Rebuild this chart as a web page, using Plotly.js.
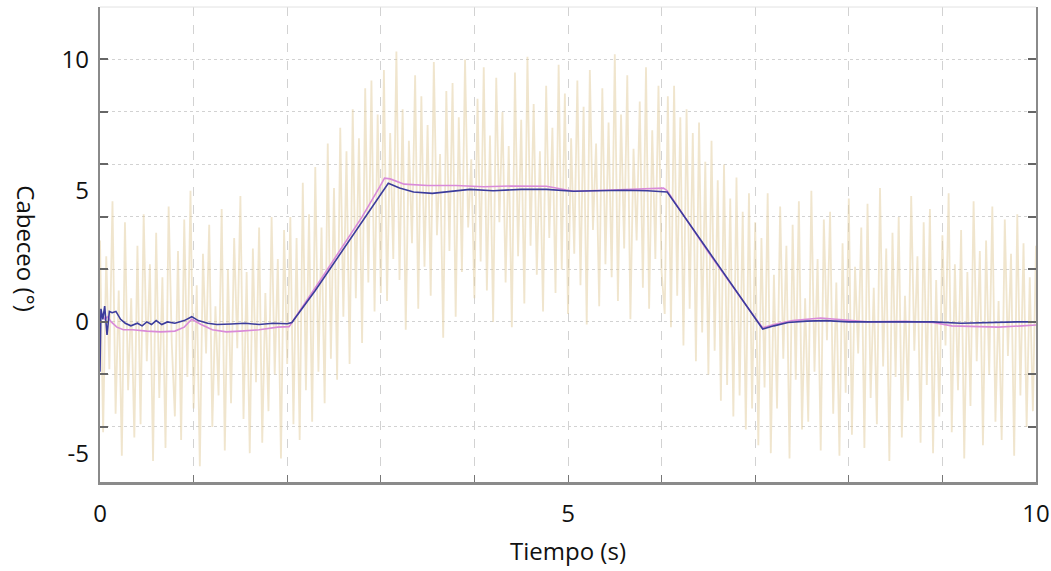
<!DOCTYPE html>
<html>
<head>
<meta charset="utf-8">
<script src="https://cdn.plot.ly/plotly-3.0.1.min.js"></script>
<style>html,body{margin:0;padding:0;background:#fff;}#chart{width:1051px;height:571px;}</style>
</head>
<body>
<div id="chart"></div>
<script>
// Noisy measured pitch signal (sampled every 1/30 s from 0 to 10 s)
const noiseStep = 1/30;
const noisyPitch = [
 3.1,-4.2,2.5,-1.8,4.6,-3.5,1.2,-5.1,3.8,-2.6,0.9,-4.4,2.9,-3.9,4.1,-1.5,2.2,-5.3,3.4,-2.9,
 1.7,-4.8,4.4,-0.8,-3.6,2.7,-4.5,3.9,-2.1,5.0,-3.3,1.4,-5.5,2.6,-1.2,3.7,-4.0,0.6,-2.8,4.3,
 -4.9,2.0,-3.1,3.2,-1.0,4.8,-3.7,1.9,-5.0,2.8,-2.3,3.6,-4.6,1.1,-3.4,4.0,-2.0,2.4,-5.2,3.5,-1.6,
 4.0,-3.9,3.2,-4.5,5.3,-2.6,4.1,-3.8,5.9,-1.9,3.6,-3.1,6.8,-1.4,5.1,-2.2,7.4,0.2,6.5,-1.6,
 8.1,0.9,7.0,-0.8,8.9,1.5,9.2,0.4,7.9,1.1,
 9.6,0.8,7.2,2.4,10.3,1.6,8.1,-0.3,6.9,3.0,9.4,0.5,8.6,2.1,7.5,1.0,9.9,3.3,6.4,-0.6,
 8.8,2.7,9.1,0.2,7.8,1.9,10.0,3.6,6.2,0.9,8.5,2.3,9.7,1.2,7.1,0.0,9.3,3.8,8.0,1.5,
 6.7,-0.2,9.5,2.5,7.7,0.7,10.1,2.9,8.3,1.8,6.5,0.4,9.0,3.2,7.4,1.1,9.8,2.0,8.7,0.3,
 7.0,2.6,9.2,1.4,8.2,-0.1,9.6,3.5,6.8,0.6,8.9,2.2,7.6,1.7,10.2,0.8,7.9,2.8,9.4,0.1,
 6.6,3.1,8.4,1.3,9.7,0.5,7.3,2.4,9.0,1.9,
 0.3,8.6,-0.2,9.0,1.0,7.8,-0.9,8.1,0.5,7.2,-1.5,7.6,-0.4,6.1,-2.0,6.9,-1.1,5.4,-3.0,6.0,
 -2.4,4.7,-3.6,5.5,-2.8,4.2,-4.1,4.9,-3.3,3.8,
 -4.7,3.2,-2.5,4.9,-5.0,1.8,-3.3,4.4,-1.4,2.9,-5.2,3.7,-2.2,4.6,-4.1,0.9,-3.8,5.0,-1.9,2.4,
 -4.9,3.9,-0.7,4.2,-3.5,1.5,-5.1,3.0,-2.7,4.7,-4.3,2.1,-1.2,3.6,-4.8,4.5,-2.9,1.3,-3.9,5.1,
 -1.7,2.8,-5.3,3.4,-2.1,4.0,-4.4,1.0,-3.0,4.8,-1.1,2.5,-4.6,3.8,-2.4,4.3,-5.0,1.6,-3.6,3.3,
 -0.9,4.9,-4.2,2.2,-2.6,3.5,-5.2,1.9,-3.2,4.6,-1.5,2.7,-4.7,3.1,-2.0,4.4,-3.8,0.8,-4.5,3.9,
 -1.3,2.6,-5.1,4.1,-2.8,3.0,-4.0,1.7,-3.4,2.9
];
const noiseTime = noisyPitch.map((_, i) => i * noiseStep);

// Blue (dark) estimated pitch
const blueTime = [0,0.01,0.03,0.05,0.075,0.1,0.13,0.17,0.22,0.27,0.33,0.4,0.45,0.5,0.55,0.6,0.66,0.72,0.8,0.9,
 0.98,1.05,1.15,1.25,1.4,1.55,1.7,1.85,2.0,2.05,2.3,2.55,2.8,3.0,3.08,3.2,3.35,3.55,3.75,3.95,
 4.2,4.5,4.77,5.06,5.3,5.6,5.85,6.02,6.06,6.5,7.0,7.08,7.2,7.35,7.55,7.75,8.0,8.3,8.6,8.9,
 9.2,9.5,9.8,10.0];
const bluePitch = [-1.9,0.5,0.1,0.6,-0.5,0.4,0.35,0.4,0.1,-0.05,-0.15,-0.05,-0.15,0.0,-0.1,0.05,-0.1,0.0,-0.05,0.05,
 0.2,0.05,-0.05,-0.1,-0.08,-0.05,-0.1,-0.05,-0.07,-0.02,1.2,2.5,3.8,4.85,5.28,5.1,4.95,4.9,4.98,5.05,
 5.0,5.05,5.05,4.98,5.0,5.02,5.0,4.98,4.95,2.7,0.15,-0.27,-0.15,-0.02,0.03,0.05,0.0,0.0,-0.02,0.0,
 -0.05,-0.02,0.0,0.0];

// Pink (light) estimated pitch
const pinkTime = [0.0,0.02,0.05,0.08,0.12,0.18,0.25,0.35,0.5,0.65,0.8,0.9,0.98,1.08,1.2,1.35,1.5,1.7,1.9,2.02,
 2.3,2.55,2.8,2.98,3.04,3.1,3.25,3.5,3.8,4.1,4.4,4.77,5.06,5.4,5.7,6.02,6.06,6.5,7.0,7.08,
 7.2,7.4,7.7,7.9,8.2,8.6,8.9,9.1,9.3,9.6,9.85,10.0];
const pinkPitch = [0.2,0.3,0.1,0.2,0.0,-0.2,-0.3,-0.3,-0.35,-0.38,-0.35,-0.2,0.1,-0.1,-0.3,-0.38,-0.35,-0.3,-0.2,-0.18,
 1.3,2.65,4.0,5.1,5.48,5.45,5.25,5.2,5.2,5.15,5.18,5.17,4.98,5.02,5.05,5.1,5.0,2.65,0.15,-0.22,
 -0.1,0.05,0.15,0.08,0.0,0.02,-0.02,-0.15,-0.18,-0.2,-0.15,-0.12];

const xTickVals = [0,1,2,3,4,5,6,7,8,9,10];
const xTickText = ['0','','','','','5','','','','','10'];
const yGridVals = [-4,-2,0,2,4,6,8,10];
const yLabelVals = [-5,0,5,10];
const yLabelText = ['-5','0','5','10'];

const yRange = [-6.1, 12];
const fontFam = '"Open Sans", "Noto Sans", sans-serif';
const fs = 24;

const traces = [
  {x: noiseTime, y: noisyPitch, type: 'scatter', mode: 'lines',
   line: {color: 'rgba(226,204,156,0.5)', width: 1.8}, hoverinfo: 'skip', showlegend: false},
  {x: pinkTime, y: pinkPitch, type: 'scatter', mode: 'lines', yaxis: 'y2',
   line: {color: '#d98ad9', width: 1.6}, showlegend: false},
  {x: blueTime, y: bluePitch, type: 'scatter', mode: 'lines', yaxis: 'y2',
   line: {color: '#3c3c9c', width: 1.6}, showlegend: false}
];

const layout = {
  width: 1051, height: 571,
  margin: {l: 100, r: 15, t: 7, b: 89},
  paper_bgcolor: '#ffffff', plot_bgcolor: '#ffffff',
  font: {family: fontFam, size: fs, color: '#111'},
  showlegend: false,
  xaxis: {
    range: [0, 10], tickmode: 'array', tickvals: xTickVals, ticktext: xTickText,
    ticks: 'inside', ticklen: 7, tickcolor: '#777', tickwidth: 1,
    showgrid: true, gridcolor: '#d2d2d2', griddash: 'dash', gridwidth: 1,
    zeroline: false, showline: true, linecolor: '#8a8a8a', linewidth: 3,
    ticklabelstandoff: 8,
    tickfont: {family: fontFam, size: fs, color: '#111'},
    title: {text: 'Tiempo (s)', font: {family: fontFam, size: fs, color: '#111'}, standoff: 16}
  },
  yaxis: {
    range: yRange, tickmode: 'array', tickvals: yGridVals, showticklabels: false,
    ticks: 'inside', ticklen: 8, tickcolor: '#666', tickwidth: 2,
    showgrid: true, gridcolor: '#d2d2d2', griddash: 'dot', gridwidth: 1,
    zeroline: false, showline: true, linecolor: '#8a8a8a', linewidth: 2, mirror: 'ticks'
  },
  yaxis2: {
    range: yRange, overlaying: 'y', side: 'left', tickmode: 'array',
    tickvals: yLabelVals, ticktext: yLabelText, ticks: '', showgrid: false,
    zeroline: false, showline: false, ticklabelstandoff: 10,
    tickfont: {family: fontFam, size: fs, color: '#111'}
  },
  shapes: [
    {type: 'line', xref: 'paper', yref: 'paper', x0: 0, x1: 1, y0: 1, y1: 1,
     line: {color: '#e2e2e2', width: 1}}
  ],
  annotations: [
    {text: 'Cabeceo (°)', textangle: 90, xref: 'paper', yref: 'paper',
     x: -0.078, y: 0.49, xanchor: 'center', yanchor: 'middle', showarrow: false,
     font: {family: fontFam, size: fs, color: '#111'}}
  ]
};

Plotly.newPlot('chart', traces, layout, {displayModeBar: false, staticPlot: true});
</script>
</body>
</html>
